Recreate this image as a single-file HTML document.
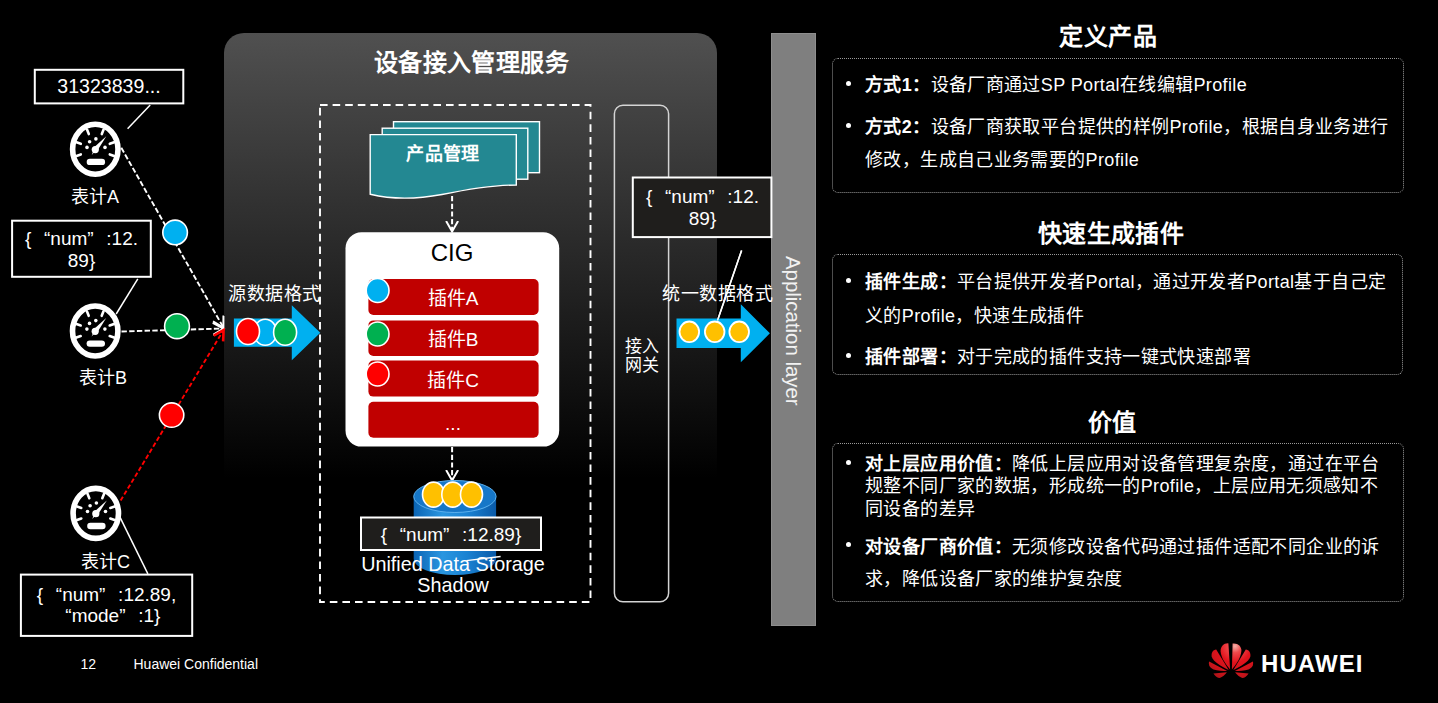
<!DOCTYPE html>
<html lang="zh-CN"><head><meta charset="utf-8">
<style>
*{margin:0;padding:0;box-sizing:border-box}
html,body{width:1438px;height:703px;overflow:hidden;background:#000}
body{position:relative;font-family:"Liberation Sans",sans-serif;color:#fff}
.t{position:absolute;white-space:nowrap;line-height:1}
.c{text-align:center}
svg{position:absolute;left:0;top:0}
.box{position:absolute;border:1px dotted #9a9a9a;border-radius:6px}
.h{position:absolute;font-weight:bold;font-size:24px;line-height:1;white-space:nowrap;text-align:center}
.p{position:absolute;font-size:18px;letter-spacing:0.38px;line-height:1;white-space:nowrap}
.p b{font-weight:bold}
.q1{display:inline-block;width:1em;text-align:right}.q2{display:inline-block;width:1em;text-align:left}
.dot{position:absolute;width:5.4px;height:5.4px;border-radius:50%;background:#fff}
</style></head><body>
<svg width="1438" height="703" viewBox="0 0 1438 703">
<defs>
 <linearGradient id="pg" x1="0" y1="0" x2="0" y2="1">
  <stop offset="0" stop-color="#505050"/>
  <stop offset="0.71" stop-color="#000"/>
 </linearGradient>
 <linearGradient id="cyl" x1="0" y1="0" x2="1" y2="0">
  <stop offset="0" stop-color="#0a64b4"/>
  <stop offset="0.35" stop-color="#2a96e0"/>
  <stop offset="0.65" stop-color="#1a82d2"/>
  <stop offset="1" stop-color="#0a5aa8"/>
 </linearGradient>
 <marker id="ah" markerWidth="14" markerHeight="14" refX="11" refY="6.5" orient="auto" markerUnits="userSpaceOnUse">
  <path d="M0.5,0.5 L11,6.5 L0.5,12.5" fill="none" stroke="#fff" stroke-width="2"/>
 </marker>
 <marker id="ahr" markerWidth="14" markerHeight="14" refX="11" refY="6.5" orient="auto" markerUnits="userSpaceOnUse">
  <path d="M1,1 L11,6.5 L1,12" fill="none" stroke="#f00" stroke-width="2.6"/>
 </marker>
 <g id="meter">
  <ellipse cx="0" cy="0.2" rx="22.7" ry="25" fill="none" stroke="#fff" stroke-width="5.6"/>
  <g stroke="#fff" stroke-width="2.6" stroke-linecap="round">
   <line x1="14.5" y1="-5.3" x2="18.8" y2="-6.8"/>
   <line x1="-14.5" y1="-5.3" x2="-18.8" y2="-6.8"/>
   <line x1="14.5" y1="5.3" x2="18.8" y2="6.8"/>
   <line x1="-14.5" y1="5.3" x2="-18.8" y2="6.8"/>
   <line x1="6.5" y1="-15" x2="8.3" y2="-19.5"/>
   <line x1="-6.5" y1="-15" x2="-8.3" y2="-19.5"/>
  </g>
  <g fill="#fff">
   <circle cx="-5.7" cy="-7.4" r="1.8"/>
   <circle cx="0.6" cy="-10.2" r="1.8"/>
   <circle cx="-8.3" cy="-1.7" r="1.8"/>
   <circle cx="9.7" cy="-1.7" r="1.8"/>
   <circle cx="0" cy="0.5" r="3.6"/>
   <path d="M-2,-1 L11,-12.8 L2,1.6 Z"/>
   <path d="M-1.2,0 L-3.6,5.8 L1,1 Z"/>
   <rect x="-8.6" y="9.6" width="18.4" height="6.4" rx="3.2"/>
  </g>
 </g>
</defs>

<!-- central panel -->
<path d="M224,53 A20,20 0 0 1 244,33 L697,33 A20,20 0 0 1 717,53 L717,660 L224,660 Z" fill="url(#pg)"/>

<!-- dashed inner rect -->
<rect x="320" y="105" width="270.5" height="497" fill="none" stroke="#fff" stroke-width="1.9" stroke-dasharray="7.6 5"/>

<!-- gateway -->
<rect x="614.4" y="105.2" width="54.2" height="496.6" rx="8.5" fill="none" stroke="#d4d4d4" stroke-width="1.5"/>

<!-- application bar -->
<rect x="771" y="33" width="45" height="593" fill="#7f7f7f"/>
<rect x="771.5" y="33.5" width="44" height="592" fill="none" stroke="#8e8e8e" stroke-width="1"/>

<!-- documents -->
<g stroke="#fff" stroke-width="1.4" fill="#238892">
 <rect x="393.5" y="121.7" width="146" height="51"/>
 <rect x="382.2" y="128.2" width="145.6" height="51"/>
 <path d="M370.2,134.6 L516.3,134.6 L516.3,185 C490,185 466,189.5 442,194.5 C418,199 392,199.5 370.2,194.3 Z"/>
</g>

<!-- arrow doc -> CIG -->
<line x1="452.1" y1="196" x2="452.1" y2="231.5" stroke="#fff" stroke-width="2" stroke-dasharray="5.2 2.5" marker-end="url(#ah)"/>

<!-- CIG box -->
<rect x="345.5" y="232.2" width="213.7" height="214.4" rx="16" fill="#fff"/>
<g fill="#c00000">
 <rect x="368.4" y="279" width="170.2" height="36" rx="5"/>
 <rect x="368.4" y="320.4" width="170.2" height="35.6" rx="5"/>
 <rect x="368.4" y="360.6" width="170.2" height="36" rx="5"/>
 <rect x="368.4" y="401.8" width="170.2" height="36" rx="5"/>
</g>
<g stroke="#fff" stroke-width="1.6">
 <ellipse cx="377.6" cy="290.5" rx="11.4" ry="12" fill="#00b0f0"/>
 <ellipse cx="377.6" cy="334" rx="11.4" ry="12" fill="#00b050"/>
 <ellipse cx="377.6" cy="374" rx="11.4" ry="12" fill="#ff0000"/>
</g>

<!-- arrow CIG -> DB -->
<line x1="452.1" y1="447" x2="452.1" y2="480.5" stroke="#fff" stroke-width="2" stroke-dasharray="5.2 2.5" marker-end="url(#ah)"/>

<!-- cylinder -->
<path d="M413.7,496.5 L413.7,559 A41.2,16 0 0 0 496.1,559 L496.1,496.5 Z" fill="url(#cyl)"/>
<ellipse cx="454.9" cy="496.5" rx="41.2" ry="16" fill="#1677c8" stroke="#5ab0ee" stroke-width="1"/>
<g stroke="#fff" stroke-width="1.6" fill="#ffc000">
 <ellipse cx="433.5" cy="494.6" rx="11" ry="12.5"/>
 <ellipse cx="452.8" cy="494.6" rx="11" ry="12.5"/>
 <ellipse cx="471.5" cy="494.6" rx="11" ry="12.5"/>
</g>
<line x1="466.5" y1="560.6" x2="500.6" y2="556.5" stroke="#fff" stroke-width="1.3"/>
<rect x="361" y="517.5" width="180" height="32.5" fill="#1f1e1c" stroke="#fff" stroke-width="2"/>

<!-- left boxes -->
<rect x="34.8" y="69.8" width="148.5" height="33.6" fill="#000" stroke="#fff" stroke-width="2"/>
<rect x="12.1" y="220.7" width="138.7" height="56.1" fill="#000" stroke="#fff" stroke-width="2"/>
<rect x="20.9" y="574.6" width="171.3" height="61.3" fill="#000" stroke="#fff" stroke-width="2"/>

<!-- connector lines -->
<g stroke="#fff" stroke-width="1.5">
 <line x1="150.2" y1="105" x2="127.6" y2="128.8"/>
 <line x1="137.8" y1="278.9" x2="116.2" y2="314"/>
 <line x1="120.2" y1="517.6" x2="147.9" y2="573.8"/>
 <line x1="741.6" y1="250.4" x2="717.5" y2="320.6"/>
</g>

<!-- dashed flows -->
<line x1="121.3" y1="147.8" x2="223.4" y2="327.5" stroke="#fff" stroke-width="1.9" stroke-dasharray="5.4 2.3" marker-end="url(#ah)"/>
<line x1="121.5" y1="331.5" x2="223.4" y2="328.5" stroke="#fff" stroke-width="1.9" stroke-dasharray="5.4 2.3" marker-end="url(#ah)"/>
<line x1="120.6" y1="500.6" x2="223.6" y2="330" stroke="#f00" stroke-width="1.9" stroke-dasharray="4.5 2.5" marker-end="url(#ahr)"/>
<!-- flow circles -->
<g stroke="#fff" stroke-width="1.6">
 <circle cx="175.1" cy="232.4" r="12.3" fill="#00b0f0"/>
 <circle cx="177" cy="326.2" r="12.4" fill="#00b050"/>
 <circle cx="171.6" cy="415.1" r="12.2" fill="#ff0000"/>
</g>

<!-- meters -->
<use href="#meter" x="95.3" y="149.1"/>
<use href="#meter" x="95.2" y="330.8"/>
<use href="#meter" x="95.8" y="513.2"/>

<!-- source arrow -->
<path d="M233.9,318.6 L291.8,318.6 L291.8,305.2 L320.3,332.7 L291.8,360.2 L291.8,346.8 L233.9,346.8 Z" fill="#00b0f0"/>
<g stroke="#fff" stroke-width="1.6">
 <ellipse cx="265.2" cy="332.3" rx="11.5" ry="13" fill="#00b0f0"/>
 <ellipse cx="248" cy="331.5" rx="11.5" ry="13" fill="#ff0000"/>
 <ellipse cx="285.1" cy="332.3" rx="11.5" ry="13" fill="#00b050"/>
</g>

<!-- unified arrow -->
<path d="M676.5,318.5 L740.8,318.5 L740.8,304.2 L769.9,333.3 L740.8,362.3 L740.8,348 L676.5,348 Z" fill="#00b0f0"/>
<g stroke="#fff" stroke-width="1.8" fill="#ffc000">
 <ellipse cx="689.3" cy="331.8" rx="9.8" ry="10.3"/>
 <ellipse cx="714.7" cy="331.8" rx="9.8" ry="10.3"/>
 <ellipse cx="739.2" cy="331.8" rx="9.8" ry="10.3"/>
</g>
<line x1="741.6" y1="250.4" x2="717.5" y2="320.6" stroke="#fff" stroke-width="1.5"/>

<!-- unified box -->
<rect x="632.8" y="177.5" width="138.6" height="59.6" fill="#1f1e1c" stroke="#fff" stroke-width="2"/>

<!-- huawei logo -->
<defs>
 <radialGradient id="hw" gradientUnits="userSpaceOnUse" cx="4" cy="-25" r="36">
  <stop offset="0" stop-color="#f4b0a8"/>
  <stop offset="0.18" stop-color="#ef4a4c"/>
  <stop offset="0.45" stop-color="#e3121c"/>
  <stop offset="0.8" stop-color="#c8141b"/>
  <stop offset="1" stop-color="#b01318"/>
 </radialGradient>
</defs>
<g transform="translate(1231,671.2)" fill="url(#hw)">
 <path d="M-0.9,-1.8 L-2.6,-27.8 C-7,-28.2 -10.6,-24.5 -10.4,-20 C-10,-13.5 -5,-6.5 -0.9,-1.8 Z"/>
 <path d="M0.9,-1.8 L1.6,-27.6 C6.5,-28.4 10.6,-25 10.4,-20.5 C10,-13.5 5,-6.5 0.9,-1.8 Z"/>
 <path d="M-2.3,-1.3 L-14.8,-21.6 C-18,-21.5 -20,-18 -19.3,-14.5 C-18,-9.5 -9,-4.5 -2.3,-1.3 Z"/>
 <path d="M2.3,-1.3 L14.8,-21.6 C18,-21.5 20,-18 19.3,-14.5 C18,-9.5 9,-4.5 2.3,-1.3 Z"/>
 <path d="M-3.8,-0.1 L-21.9,-9.6 C-22.8,-6 -21,-3 -17.5,-1.8 C-13.5,-0.6 -8,-0.1 -3.8,-0.1 Z"/>
 <path d="M3.8,-0.1 L21.9,-9.6 C22.8,-6 21,-3 17.5,-1.8 C13.5,-0.6 8,-0.1 3.8,-0.1 Z"/>
 <path d="M-4.1,1.1 L-17.6,2.2 C-16,4.5 -13.5,6.8 -11.3,6.9 C-8.5,5.8 -5.8,3.6 -4.1,1.1 Z"/>
 <path d="M4.1,1.1 L17.6,2.2 C16,4.5 13.5,6.8 11.3,6.9 C8.5,5.8 5.8,3.6 4.1,1.1 Z"/>
</g>
</svg>

<!-- text: central -->
<div class="t" style="left:225px;width:493px;top:51px;font-size:24px;font-weight:bold;text-align:center;letter-spacing:0.35px">设备接入管理服务</div>
<div class="t" style="left:370px;width:146px;top:144.5px;font-size:18px;font-weight:bold;text-align:center;letter-spacing:0.3px">产品管理</div>
<div class="t" style="left:345px;width:214px;top:241px;font-size:24px;color:#000;text-align:center">CIG</div>
<div class="t c" style="left:368px;width:170px;top:288.5px;font-size:19px">插件A</div>
<div class="t c" style="left:368px;width:170px;top:329.5px;font-size:19px">插件B</div>
<div class="t c" style="left:368px;width:170px;top:370.5px;font-size:19px">插件C</div>
<div class="t c" style="left:368px;width:170px;top:414px;font-size:19px">...</div>
<div class="t c" style="left:361px;width:180px;top:525px;font-size:19px">{<span class="q1">“</span>num<span class="q2">”</span>:12.89}</div>
<div class="t c" style="left:338px;width:230px;top:553.5px;font-size:19.8px;line-height:21.8px">Unified Data Storage<br>Shadow</div>
<div class="t" style="left:228px;top:285px;font-size:18px;letter-spacing:0.5px">源数据格式</div>
<div class="t" style="left:662px;top:285px;font-size:18px;letter-spacing:0.5px">统一数据格式</div>
<div class="t c" style="left:614px;width:55px;top:336.5px;font-size:17px;line-height:19.5px">接入<br>网关</div>
<div class="t c" style="left:633px;width:139px;top:186px;font-size:19px;line-height:21.5px">{<span class="q1">“</span>num<span class="q2">”</span>:12.<br>89}</div>
<div class="t" style="left:793px;top:256px;font-size:20.4px;transform-origin:0 0;transform:rotate(90deg) translate(0,-10px);color:#f2f2f2">Application layer</div>

<!-- text: left -->
<div class="t c" style="left:35px;width:148px;top:76px;font-size:20.5px;transform:scaleX(0.955)">31323839...</div>
<div class="t c" style="left:12px;width:139px;top:228px;font-size:19px;line-height:21.5px">{<span class="q1">“</span>num<span class="q2">”</span>:12.<br>89}</div>
<div class="t c" style="left:21px;width:171px;top:584px;font-size:19px;line-height:21.2px">{<span class="q1">“</span>num<span class="q2">”</span>:12.89,<br><span class="q1">“</span>mode<span class="q2">”</span>:1}</div>
<div class="t" style="left:71px;top:188px;font-size:18px">表计A</div>
<div class="t" style="left:79px;top:369px;font-size:18px">表计B</div>
<div class="t" style="left:81px;top:553px;font-size:18px">表计C</div>

<!-- footer -->
<div class="t" style="left:80.5px;top:656.5px;font-size:14px">12</div>
<div class="t" style="left:133.5px;top:656.5px;font-size:14px">Huawei Confidential</div>
<div class="t" style="left:1261px;top:652px;font-size:24px;font-weight:bold;letter-spacing:1.1px">HUAWEI</div>

<!-- right panels -->
<div class="h" style="left:1008px;width:200px;top:25px;letter-spacing:0.5px">定义产品</div>
<div class="box" style="left:832px;top:58px;width:572px;height:135px"></div>
<div class="dot" style="left:845.5px;top:80.7px"></div>
<div class="p" style="left:865px;top:76.4px"><b>方式1：</b>设备厂商通过SP Portal在线编辑Profile</div>
<div class="dot" style="left:845.5px;top:122.9px"></div>
<div class="p" style="left:865px;top:117.8px"><b>方式2：</b>设备厂商获取平台提供的样例Profile，根据自身业务进行</div>
<div class="p" style="left:865px;top:150.7px">修改，生成自己业务需要的Profile</div>

<div class="h" style="left:1011px;width:200px;top:222px;letter-spacing:0.4px">快速生成插件</div>
<div class="box" style="left:832px;top:254.3px;width:571px;height:121px"></div>
<div class="dot" style="left:845.5px;top:277.6px"></div>
<div class="p" style="left:865px;top:272.9px"><b>插件生成：</b>平台提供开发者Portal，通过开发者Portal基于自己定</div>
<div class="p" style="left:865px;top:306.6px">义的Profile，快速生成插件</div>
<div class="dot" style="left:845.5px;top:352.7px"></div>
<div class="p" style="left:865px;top:348px"><b>插件部署：</b>对于完成的插件支持一键式快速部署</div>

<div class="h" style="left:1012px;width:200px;top:411px;letter-spacing:0.4px">价值</div>
<div class="box" style="left:832px;top:443px;width:572px;height:159px"></div>
<div class="dot" style="left:845.5px;top:459.8px"></div>
<div class="p" style="left:865px;top:454.7px"><b>对上层应用价值：</b>降低上层应用对设备管理复杂度，通过在平台</div>
<div class="p" style="left:865px;top:477.1px">规整不同厂家的数据，形成统一的Profile，上层应用无须感知不</div>
<div class="p" style="left:865px;top:499.5px">同设备的差异</div>
<div class="dot" style="left:845.5px;top:542.1px"></div>
<div class="p" style="left:865px;top:537.5px"><b>对设备厂商价值：</b>无须修改设备代码通过插件适配不同企业的诉</div>
<div class="p" style="left:865px;top:569.9px">求，降低设备厂家的维护复杂度</div>
</body></html>
